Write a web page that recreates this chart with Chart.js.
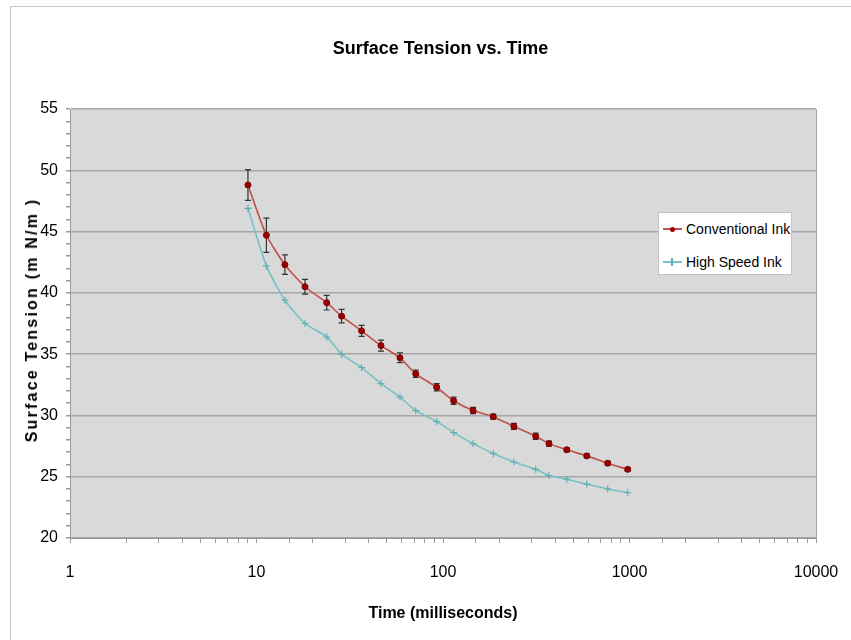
<!DOCTYPE html>
<html>
<head>
<meta charset="utf-8">
<script src="https://cdn.jsdelivr.net/npm/chart.js@4.4.1/dist/chart.umd.min.js"></script>
<style>
	body { margin:0; background:#fff; }
	#wrap { position:relative; width:851px; height:640px; overflow:hidden; }
	#frame { position:absolute; left:10px; top:6px; width:900px; height:700px; border-left:1px solid #c8c8c8; border-top:1px solid #c8c8c8; }
	#c { position:absolute; left:0; top:0; }
	#ytitle { position:absolute; left:32px; top:320px; transform:translate(-50%,-50%) rotate(-90deg); white-space:nowrap;
		font:bold 16px "Liberation Sans", Arial, sans-serif; letter-spacing:2.2px; color:#000; }
	#legend { position:absolute; left:658px; top:212px; width:134px; height:63px; box-sizing:border-box; background:#fff; border:1px solid #c4c4c4;
		font:14px "Liberation Sans", Arial, sans-serif; color:#000; }
	.row { position:absolute; left:4px; height:20px; line-height:20px; white-space:nowrap; }
	.sw { position:absolute; left:0; top:9px; width:19px; height:2px; }
	.mk { position:absolute; }
	.lbl { position:absolute; left:23px; top:0; }
</style>
</head>
<body>
<div id="wrap">
	<div id="frame"></div>
	<canvas id="c" width="851" height="640"></canvas>
	<div id="ytitle">Surface Tension (m N/m )</div>
	<div id="legend">
		<div class="row" style="top:6px"><div class="sw" style="background:#c0504d"></div><div class="mk" style="left:7px;top:8px;width:5px;height:5px;border-radius:3px;background:#9b0000"></div><span class="lbl">Conventional Ink</span></div>
		<div class="row" style="top:39px"><div class="sw" style="background:#74c2c6"></div><div class="mk" style="left:8px;top:6px;width:2px;height:8px;background:#5fb0b5"></div><span class="lbl">High Speed Ink</span></div>
	</div>
</div>
<script>
	//	values
	var timeMs = [9.0, 11.3, 14.2, 18.2, 23.8, 28.6, 36.6, 46.5, 58.8, 71.4, 92.5, 114, 145, 186, 240, 314, 370, 461, 590, 764, 978];
	var conventionalInk = [48.8, 44.7, 42.3, 40.5, 39.2, 38.1, 36.9, 35.7, 34.7, 33.4, 32.3, 31.2, 30.4, 29.9, 29.1, 28.3, 27.7, 27.2, 26.7, 26.1, 25.6];
	var conventionalErr = [1.25, 1.4, 0.8, 0.6, 0.6, 0.55, 0.45, 0.45, 0.4, 0.3, 0.3, 0.3, 0.25, 0.2, 0.25, 0.25, 0.2, 0.15, 0.15, 0.15, 0.15];
	var highSpeedInk = [46.9, 42.2, 39.4, 37.5, 36.4, 35.0, 33.9, 32.6, 31.5, 30.4, 29.5, 28.6, 27.7, 26.9, 26.2, 25.6, 25.1, 24.8, 24.4, 24.0, 23.7];
	var xTickLabels = [1, 10, 100, 1000, 10000];
	var yTickStep = 5;

	var sans = '"Liberation Sans", Arial, sans-serif';

	var plotBackground =
		{
			id: 'plotBackground',
			beforeDraw: function(chart)
			{
				var a = chart.chartArea, ctx = chart.ctx;
				ctx.save();
				ctx.fillStyle = '#d9d9d9';
				ctx.fillRect(a.left, a.top, a.right - a.left, a.bottom - a.top);
				ctx.strokeStyle = '#a8a8a8';
				ctx.lineWidth = 1;
				ctx.beginPath();
				ctx.moveTo(a.right + 0.5, a.top);
				ctx.lineTo(a.right + 0.5, a.bottom);
				ctx.stroke();
				ctx.restore();
			}
		};

	var errorBars =
		{
			id: 'errorBars',
			beforeDatasetsDraw: function(chart)
			{
				var xs = chart.scales.x, ys = chart.scales.y, ctx = chart.ctx;
				ctx.save();
				ctx.strokeStyle = '#333';
				ctx.lineWidth = 1.2;
				timeMs.forEach(function(t, i)
				{
					var px = xs.getPixelForValue(t);
					var top = ys.getPixelForValue(conventionalInk[i] + conventionalErr[i]);
					var bot = ys.getPixelForValue(conventionalInk[i] - conventionalErr[i]);
					ctx.beginPath();
					ctx.moveTo(px, top); ctx.lineTo(px, bot);
					ctx.moveTo(px - 3, top); ctx.lineTo(px + 3, top);
					ctx.moveTo(px - 3, bot); ctx.lineTo(px + 3, bot);
					ctx.stroke();
				});
				ctx.restore();
			}
		};

	var toPoints = function(ys)
	{
		return timeMs.map(function(t, i) { return { x: t, y: ys[i] }; });
	};

	new Chart(document.getElementById('c'),
	{
		type: 'line',
		data: {
			datasets: [
				{
					label: 'Conventional Ink',
					data: toPoints(conventionalInk),
					borderColor: '#c0504d',
					borderWidth: 1.6,
					pointStyle: 'circle',
					pointRadius: 3,
					pointBackgroundColor: '#9b0000',
					pointBorderColor: '#7a0000',
					pointBorderWidth: 1,
					tension: 0.2
				},
				{
					label: 'High Speed Ink',
					data: toPoints(highSpeedInk),
					borderColor: '#74c2c6',
					borderWidth: 1.6,
					pointStyle: 'cross',
					pointRadius: 3.5,
					pointBorderColor: '#5fb0b5',
					pointBorderWidth: 1.2,
					tension: 0.2
				}
			]
		},
		options: {
			responsive: false,
			animation: false,
			layout: { padding: { left: 30, right: 0, top: 0, bottom: 0 } },
			plugins: {
				legend: { display: false },
				tooltip: { enabled: false },
				title: {
					display: true,
					text: 'Surface Tension vs. Time',
					color: '#000',
					font: { family: sans, size: 18, weight: 'bold' },
					padding: { top: 38, bottom: 49.4 }
				}
			},
			scales: {
				x: {
					type: 'logarithmic',
					min: 1,
					max: 10000,
					afterFit: function(s) { s.height = 102; s.paddingRight = 35; },
					grid: { drawOnChartArea: false, drawTicks: true, tickLength: 5, tickColor: '#9a9a9a' },
					border: { color: '#9a9a9a', width: 1 },
					ticks: {
						autoSkip: false,
						maxRotation: 0,
						padding: 20,
						color: '#000',
						font: { family: sans, size: 16 },
						callback: function(v) { return xTickLabels.indexOf(v) >= 0 ? String(v) : ''; }
					},
					title: {
						display: true,
						text: 'Time (milliseconds)',
						color: '#000',
						font: { family: sans, size: 16, weight: 'bold' },
						padding: { top: 0, bottom: 17 }
					}
				},
				y: {
					min: 20,
					max: 55,
					afterFit: function(s) { s.width = 40; },
					grid: {
						color: function(c) { return c.tick && c.tick.value % yTickStep === 0 ? '#a6a6a6' : 'rgba(0,0,0,0)'; },
						lineWidth: 1.5,
						tickLength: 4,
						tickColor: '#9a9a9a'
					},
					border: { color: '#9a9a9a', width: 1 },
					ticks: {
						stepSize: 1,
						autoSkip: false,
						padding: 8,
						color: '#000',
						font: { family: sans, size: 16 },
						callback: function(v) { return v % yTickStep === 0 ? String(v) : ''; }
					}
				}
			}
		},
		plugins: [plotBackground, errorBars]
	});
</script>
</body>
</html>
